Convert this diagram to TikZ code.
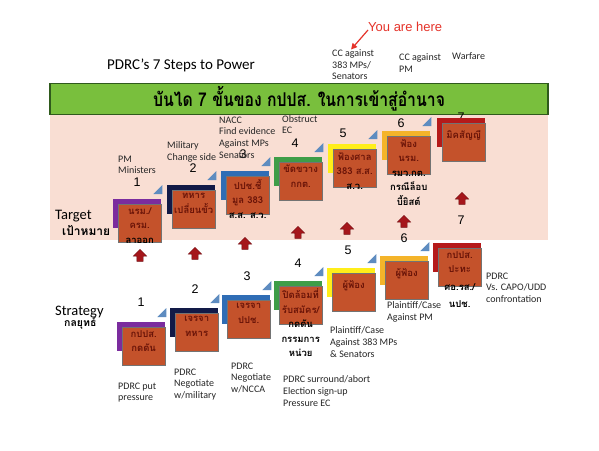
\documentclass[tikz,border=0pt]{standalone}
\usepackage{fontspec}
\usepackage{graphicx}
\setmainfont{Carlito}
\newfontfamily\thaifont[Script=Thai]{Loma}
\newfontfamily\arialfont{Liberation Sans}
\usetikzlibrary{positioning,calc,shapes.arrows,arrows.meta}
\definecolor{banner}{HTML}{79BF3D}
\definecolor{bannerline}{HTML}{2F5A1C}
\definecolor{band}{HTML}{F9DED3}
\definecolor{brick}{HTML}{C4522B}
\definecolor{maroon}{HTML}{6A1408}
\definecolor{stairblue}{HTML}{5E8CC0}
\definecolor{arrowred}{HTML}{A5161B}
\definecolor{herered}{HTML}{E5332A}
\definecolor{stpurple}{HTML}{7B2C9E}
\definecolor{stnavy}{HTML}{121A47}
\definecolor{stblue}{HTML}{2F6DB5}
\definecolor{stgreen}{HTML}{3E9D48}
\definecolor{styellow}{HTML}{FFEE1A}
\definecolor{stgold}{HTML}{F4B42A}
\definecolor{stred}{HTML}{B51A1A}
\newcommand{\inbox}[1]{\textcolor{maroon}{#1}}
\newcommand{\stairtip}[1]{\fill[stairblue] ($(#1.north east)+(1,-5)$) -- ++(-9,0) -- ++(9,-9) -- cycle;}
\tikzset{
  backbox/.style={anchor=north west, minimum width=48pt, minimum height=29pt, inner sep=0pt, fill=#1},
  frontbox/.style={draw=black!55, fill=brick, anchor=north east, minimum width=43pt, minimum height=38pt, inner sep=0pt},
  thaitext/.style={anchor=north, align=center, inner sep=0pt, font=\thaifont\bfseries\fontsize{9.5}{14.5}\selectfont, execute at begin node=\rule{0pt}{12pt}},
  steplabel/.style={anchor=north west, align=left, inner sep=0pt, font=\fontsize{10}{11.7}\selectfont, text=black!85, execute at begin node=\rule{0pt}{8pt}},
  stepnum/.style={font=\arialfont\fontsize{12.5}{14}\selectfont, inner sep=0pt},
  uparrow/.style={single arrow, shape border rotate=90, fill=arrowred, draw=arrowred!70!black, minimum height=12pt, inner sep=3pt, single arrow head extend=3.5pt},
  herearrow/.style={-{Triangle[length=6pt,width=6pt]}, very thick, draw=herered}
}
\begin{document}
\begin{tikzpicture}[x=1pt, y=-1pt]
  \useasboundingbox (0,0) rectangle (599,450);
  \fill[white] (0,0) rectangle (599,450);
  % heading
  \node[font=\fontsize{15}{18}\selectfont] (title) at (181,65) {PDRC’s 7 Steps to Power};
  \node[anchor=west, inner sep=0pt, text=herered, font=\arialfont\fontsize{13}{15}\selectfont] (youhere) at (368,27) {You are here};
  \node[steplabel] (cc383) at (332,49.5) {CC against\\383 MPs/\\Senators};
  \node[steplabel] (ccpm) at (399,53.5) {CC against\\PM};
  \node[steplabel] (warfare) at (452,51.5) {Warfare};
  \draw[herearrow] ([yshift=-3pt]youhere.west) -- ([xshift=-2pt]cc383.north);
  % band and banner
  \node[anchor=north west, minimum width=498pt, minimum height=127pt, inner sep=0pt, fill=band] (band) at (50,113) {};
  \node[minimum width=498pt, minimum height=28pt, fill=banner, draw=bannerline, line width=1.2pt, font=\thaifont\bfseries\fontsize{19}{22}\selectfont] (banner) at (299,99) {\scalebox{0.83}[1]{บันได 7 ขั้นของ กปปส. ในการเข้าสู่อำนาจ}};
  \node[anchor=west, inner sep=0pt, font=\fontsize{14.5}{17}\selectfont] (target) at (55,216) {Target};
  \node[anchor=west, inner sep=0pt, font=\thaifont\bfseries\fontsize{12}{14}\selectfont] (targetth) at (62,231) {เป้าหมาย};
  \node[anchor=west, inner sep=0pt, font=\fontsize{14.5}{17}\selectfont] (strategy) at (55,312) {Strategy};
  \node[anchor=west, inner sep=0pt, font=\thaifont\bfseries\fontsize{10.5}{12}\selectfont] (strategyth) at (64,323) {กลยุทธ์};
  % target row
  \node[stepnum] (tn1) at (137,182) {1};
  \node[stepnum] (tn2) at (193,168) {2};
  \node[stepnum] (tn3) at (243,154) {3};
  \node[stepnum] (tn4) at (295,143) {4};
  \node[stepnum] (tn5) at (343,133) {5};
  \node[stepnum] (tn6) at (401,123) {6};
  \node[stepnum] (tn7) at (461,117) {7};
  \node[steplabel] (tl1) at (118,155.5) {PM\\Ministers};
  \node[steplabel] (tl2) at (167,141.5) {Military\\Change side};
  \node[steplabel] (tl3) at (219,116.5) {NACC\\Find evidence\\Against MPs\\Senators};
  \node[steplabel] (tl4) at (282,115) {Obstruct\\EC};
  \node[backbox=stpurple] (tb1) at (113,199) {};
  \node[frontbox] (tf1) at ([yshift=-5pt]tb1.north east) {};
  \node[thaitext] (tt1) at ([yshift=-3pt]tf1.north) {\inbox{นรม./}\\\inbox{ครม.}\\ลาออก};
  \stairtip{tb1}
  \node[backbox=stnavy] (tb2) at (167,185) {};
  \node[frontbox] (tf2) at ([yshift=-5pt]tb2.north east) {};
  \node[thaitext] (tt2) at ([yshift=-3pt]tf2.north) {\inbox{ทหาร}\\\inbox{เปลี่ยนขั้ว}};
  \stairtip{tb2}
  \node[backbox=stblue] (tb3) at (221,171) {};
  \node[frontbox] (tf3) at ([yshift=-5pt]tb3.north east) {};
  \node[thaitext] (tt3) at ([yshift=-3pt]tf3.north) {\inbox{ปปช.ชี้}\\\inbox{มูล 383}\\ส.ส. ส.ว.};
  \stairtip{tb3}
  \node[backbox=stgreen] (tb4) at (274,157) {};
  \node[frontbox] (tf4) at ([yshift=-5pt]tb4.north east) {};
  \node[thaitext] (tt4) at ([yshift=-3pt]tf4.north) {\inbox{ขัดขวาง}\\\inbox{กกต.}};
  \stairtip{tb4}
  \node[backbox=styellow] (tb5) at (328,144) {};
  \node[frontbox] (tf5) at ([yshift=-5pt]tb5.north east) {};
  \node[thaitext] (tt5) at ([yshift=-3pt]tf5.north) {\inbox{ฟ้องศาล}\\\inbox{383 ส.ส.}\\ส.ว.};
  \stairtip{tb5}
  \node[backbox=stgold] (tb6) at (382,131) {};
  \node[frontbox] (tf6) at ([yshift=-5pt]tb6.north east) {};
  \node[thaitext] (tt6) at ([yshift=-3pt]tf6.north) {\inbox{ฟ้อง}\\\inbox{นรม.}\\รมว.กต.\\กรณีล็อบ\\บี้ยิสต์};
  \stairtip{tb6}
  \node[backbox=stred] (tb7) at (437,118) {};
  \node[frontbox] (tf7) at ([yshift=-5pt]tb7.north east) {};
  \node[thaitext] (tt7) at ([yshift=-3pt]tf7.north) {\inbox{มิคสัญญี}};
  % arrows from strategy to target
  \node[uparrow] (up1) at (140,257) {};
  \node[uparrow] (up2) at (195,255) {};
  \node[uparrow] (up3) at (245,245) {};
  \node[uparrow] (up4) at (298,234) {};
  \node[uparrow] (up5) at (347,230) {};
  \node[uparrow] (up6) at (404,223) {};
  \node[uparrow] (up7) at (462,200) {};
  % strategy row
  \node[stepnum] (sn1) at (141,302) {1};
  \node[stepnum] (sn2) at (195,289) {2};
  \node[stepnum] (sn3) at (247,276) {3};
  \node[stepnum] (sn4) at (298,263) {4};
  \node[stepnum] (sn5) at (348,250) {5};
  \node[stepnum] (sn6) at (404,238) {6};
  \node[stepnum] (sn7) at (461,220) {7};
  \node[backbox=stpurple] (sb1) at (117,322) {};
  \node[frontbox] (sf1) at ([yshift=-5pt]sb1.north east) {};
  \node[thaitext] (st1) at ([yshift=-3pt]sf1.north) {\inbox{กปปส.}\\\inbox{กดดัน}};
  \stairtip{sb1}
  \node[backbox=stnavy] (sb2) at (170,308) {};
  \node[frontbox] (sf2) at ([yshift=-5pt]sb2.north east) {};
  \node[thaitext] (st2) at ([yshift=-3pt]sf2.north) {\inbox{เจรจา}\\\inbox{ทหาร}};
  \stairtip{sb2}
  \node[backbox=stblue] (sb3) at (222,295) {};
  \node[frontbox] (sf3) at ([yshift=-5pt]sb3.north east) {};
  \node[thaitext] (st3) at ([yshift=-3pt]sf3.north) {\inbox{เจรจา}\\\inbox{ปปช.}};
  \stairtip{sb3}
  \node[backbox=stgreen] (sb4) at (274,281) {};
  \node[frontbox] (sf4) at ([yshift=-5pt]sb4.north east) {};
  \node[thaitext] (st4) at ([yshift=-3pt]sf4.north) {\inbox{ปิดล้อมที่}\\\inbox{รับสมัคร/}\\กดดัน\\กรรมการ\\หน่วย};
  \stairtip{sb4}
  \node[backbox=styellow] (sb5) at (327,268) {};
  \node[frontbox] (sf5) at ([yshift=-5pt]sb5.north east) {};
  \node[thaitext] (st5) at ([yshift=-3pt]sf5.north) {\inbox{ผู้ฟ้อง}};
  \stairtip{sb5}
  \node[backbox=stgold] (sb6) at (380,256) {};
  \node[frontbox] (sf6) at ([yshift=-5pt]sb6.north east) {};
  \node[thaitext] (st6) at ([yshift=-3pt]sf6.north) {\inbox{ผู้ฟ้อง}};
  \stairtip{sb6}
  \node[backbox=stred] (sb7) at (433,243) {};
  \node[frontbox] (sf7) at ([yshift=-5pt]sb7.north east) {};
  \node[thaitext] (st7) at ([yshift=-3pt]sf7.north) {\inbox{กปปส.}\\\inbox{ปะทะ}\\[3pt]ศอ.รส./\\[3pt]นปช.};
  \node[steplabel] (sl1) at (118,382.5) {PDRC put\\pressure};
  \node[steplabel] (sl2) at (174,368.5) {PDRC\\Negotiate\\w/military};
  \node[steplabel] (sl3) at (231,362.5) {PDRC\\Negotiate\\w/NCCA};
  \node[steplabel] (sl4) at (283,375.5) {PDRC surround/abort\\Election sign-up\\Pressure EC};
  \node[steplabel] (sl5) at (330,326.5) {Plaintiff/Case\\Against 383 MPs\\\& Senators};
  \node[steplabel] (sl6) at (387,301.5) {Plaintiff/Case\\Against PM};
  \node[steplabel] (sl7) at (486,272.5) {PDRC\\Vs. CAPO/UDD\\confrontation};
\end{tikzpicture}
\end{document}
